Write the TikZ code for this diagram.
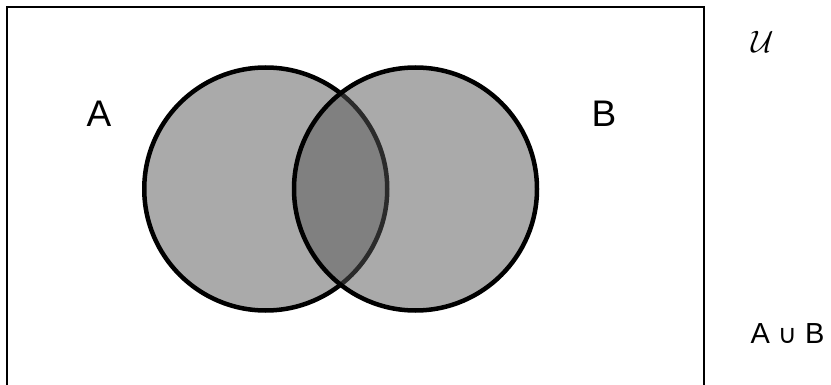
\documentclass[tikz,border=0pt]{standalone}
\usepackage{fontspec}
\setmainfont{Liberation Sans}
\newfontfamily\dejavu{DejaVu Sans}
\begin{document}
\begin{tikzpicture}[x=1pt,y=-1pt,
  setcircle/.style={circle, draw=black, line width=4.5pt, fill=black!66, fill opacity=0.5, text opacity=1, minimum size=243pt, inner sep=0pt},
  biglabel/.style={font=\fontsize{37}{40}\selectfont, inner sep=0pt},
  frame/.style={draw=black, line width=2pt}]
\useasboundingbox (0,0) rectangle (831,385);
\clip (0,0) rectangle (831,385);
\fill[white] (0,0) rectangle (831,385);
\coordinate (bl) at (7,400);
\coordinate (tl) at (7,7);
\coordinate (tr) at (704,7);
\coordinate (br) at (704,400);
\draw[frame] (bl) -- (tl) -- (tr) -- (br);
\node[setcircle] (ca) at (265.75,189) {};
\node[setcircle] (cb) at (415.5,189) {};
\node[biglabel] (la) at (99,114) {A};
\node[biglabel] (lb) at (604,114) {B};
\node[inner sep=0pt] (u) at (763,42) {\scalebox{3.1}{$\mathcal{U}$}};
\node[inner sep=0pt, font=\fontsize{29}{32}\selectfont, anchor=base] (aub) at (787.5,343) {A {\dejavu\fontsize{26}{30}\selectfont ∪} B};
\end{tikzpicture}
\end{document}
